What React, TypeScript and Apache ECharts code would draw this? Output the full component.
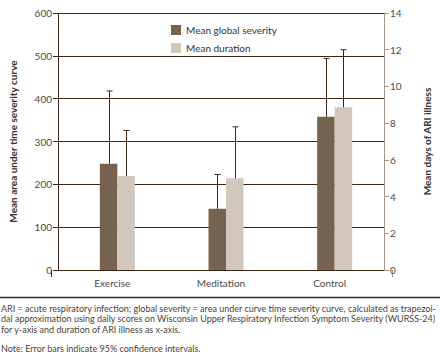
import React, { useEffect, useRef } from "react";
import * as echarts from "echarts";

const categories = ["Exercise", "Meditation", "Control"];
const severityMean = [248, 143, 358];
const severityUpper = [418, 223, 494];
const durationMean = [5.12, 5.0, 8.86];
const durationUpper = [7.6, 7.8, 12.0];
const leftTicks = { min: 0, max: 600, interval: 100 };
const rightTicks = { min: 0, max: 14, interval: 2 };

const seriesNames = ["Mean global severity", "Mean duration"];
const captionLines = [
  "ARI = acute respiratory infection; global severity = area under curve time severity curve, calculated as trapezoi-",
  "dal approximation using daily scores on Wisconsin Upper Respiratory Infection Symptom Severity (WURSS-24)",
  "for y-axis and duration of ARI illness as x-axis.",
];
const noteLine = "Note: Error bars indicate 95% confidence intervals.";

const DARK = "#76634f";
const LIGHT = "#d1c7bc";
const BROWN = "#3b2514";
const FONT = "Lato";
const BAR_W = 17.5;
const SPACER_W = 10;

export default function App() {
  const ref = useRef<HTMLDivElement>(null);
  useEffect(() => {
    if (!ref.current) return;
    const chart = echarts.init(ref.current, null, { renderer: "svg" });

    const errorSeries = (upper: number[], means: number[], yAxisIndex: number, offset: number) => ({
      type: "custom",
      yAxisIndex,
      z: 5,
      silent: true,
      data: means.map((m, i) => [i, m, upper[i]]),
      renderItem: (params: any, api: any) => {
        const i = api.value(0);
        const top = api.coord([i, api.value(2)]);
        const base = api.coord([i, api.value(1)]);
        const x = Math.round(top[0] + offset) + 0.5;
        return {
          type: "group",
          children: [
            { type: "line", shape: { x1: x, y1: base[1], x2: x, y2: top[1] }, style: { stroke: BROWN, lineWidth: 1 } },
            { type: "line", shape: { x1: x - 3, y1: top[1], x2: x + 3, y2: top[1] }, style: { stroke: BROWN, lineWidth: 1 } },
          ],
        };
      },
    });

    const groupStart = -(SPACER_W + 2 * BAR_W) / 2;
    const darkCenter = groupStart + SPACER_W + BAR_W / 2;
    const lightCenter = groupStart + SPACER_W + BAR_W * 1.5;

    const option: any = {
      animation: false,
      textStyle: { fontFamily: FONT },
      grid: { left: 51, right: 48, top: 13, bottom: 87, containLabel: false },
      legend: {
        data: seriesNames,
        orient: "vertical",
        left: 166,
        top: 20,
        itemWidth: 10,
        itemHeight: 10,
        itemGap: 8,
        icon: "rect",
        selectedMode: false,
        textStyle: { fontSize: 10, color: "#333", fontFamily: FONT },
      },
      xAxis: {
        type: "category",
        data: categories,
        axisLine: { show: false },
        axisTick: { show: false },
        axisLabel: { color: "#4a4a4a", fontSize: 10, margin: 8, fontFamily: FONT },
      },
      yAxis: [
        {
          type: "value",
          ...leftTicks,
          name: "Mean area under time severity curve",
          nameLocation: "middle",
          nameGap: 40,
          nameTextStyle: { fontWeight: "bold", fontSize: 10, color: "#333", fontFamily: FONT },
          axisLine: { show: true, lineStyle: { color: BROWN, width: 1 } },
          axisTick: { show: true, length: 5, lineStyle: { color: BROWN } },
          axisLabel: { color: "#4a4a4a", fontSize: 10, margin: 6, fontFamily: FONT },
          splitLine: { show: true, lineStyle: { color: BROWN, width: 1.2 } },
        },
        {
          type: "value",
          ...rightTicks,
          position: "right",
          name: "Mean days of ARI illness",
          nameLocation: "middle",
          nameGap: 38,
          nameRotate: 90,
          nameTextStyle: { fontWeight: "bold", fontSize: 10, color: "#333", fontFamily: FONT, padding: [0, 0, 18, 0] },
          axisLine: { show: true, lineStyle: { color: "#a39689", width: 1 } },
          axisTick: { show: true, length: 5, lineStyle: { color: "#a39689" } },
          axisLabel: { color: "#4a4a4a", fontSize: 10, margin: 6, fontFamily: FONT },
          splitLine: { show: false },
        },
      ],
      series: [
        {
          type: "bar",
          name: "spacer",
          barWidth: SPACER_W,
          barGap: 0,
          data: categories.map(() => 0),
          itemStyle: { color: "transparent" },
          silent: true,
        },
        {
          type: "bar",
          name: seriesNames[0],
          barWidth: BAR_W,
          barGap: 0,
          data: severityMean,
          itemStyle: { color: DARK },
        },
        {
          type: "bar",
          name: seriesNames[1],
          yAxisIndex: 1,
          barWidth: BAR_W,
          barGap: 0,
          data: durationMean,
          itemStyle: { color: LIGHT },
        },
        errorSeries(severityUpper, severityMean, 0, darkCenter),
        errorSeries(durationUpper, durationMean, 1, lightCenter),
      ],
      graphic: [
        { type: "line", shape: { x1: 51.5, y1: 270, x2: 51.5, y2: 277 }, style: { stroke: BROWN, lineWidth: 1 } },
        { type: "line", shape: { x1: 392.5, y1: 270, x2: 392.5, y2: 277 }, style: { stroke: "#a39689", lineWidth: 1 } },
        { type: "line", shape: { x1: 0, y1: 297.5, x2: 440, y2: 297.5 }, style: { stroke: BROWN, lineWidth: 1.3 } },
        ...captionLines.map((t, i) => ({
          type: "text",
          x: 1,
          y: 308 + i * 10.5,
          style: { text: t, fontSize: 9, fill: "#4a3f35", fontFamily: FONT, verticalAlign: "middle" },
        })),
        {
          type: "text",
          x: 1,
          y: 348,
          style: { text: noteLine, fontSize: 9, fill: "#4a3f35", fontFamily: FONT, verticalAlign: "middle" },
        },
      ],
    };
    chart.setOption(option);
    return () => chart.dispose();
  }, []);
  return <div ref={ref} style={{ width: 440, height: 357, position: "absolute", left: 0, top: 0 }} />;
}
